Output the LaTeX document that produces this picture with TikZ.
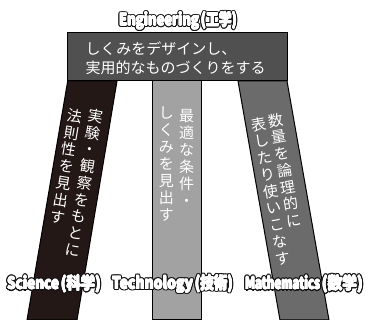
\documentclass[tikz,border=0pt]{standalone}
\usepackage{fontspec}
\usepackage{graphicx}
\setmainfont{Noto Sans CJK JP}
\newfontfamily\lblfont{Noto Sans CJK JP Black}
\usetikzlibrary{calc}
\definecolor{sciblk}{HTML}{231815}
\definecolor{boxgray}{HTML}{505050}
\definecolor{mathgray}{HTML}{6B6B6B}
\definecolor{techgray}{HTML}{A2A2A2}
\definecolor{lblwhite}{RGB}{255,255,255}
\definecolor{lblblack}{RGB}{20,20,20}
\tikzset{
  legshape/.style={draw=black, line width=1pt, line join=miter},
  vtext/.style={text=white, font=\fontsize{15}{17}\selectfont, align=center, inner sep=0pt},
  boxtext/.style={text=white, font=\fontsize{15}{18.5}\selectfont, align=left, inner sep=0pt},
  lbl/.style={font=\lblfont\fontsize{16.5}{19}\selectfont, inner sep=0pt},
}
% #1 latin width, #2 latin word, #3 cjk width, #4 cjk word
\newcommand\lab[4]{\resizebox{#1}{\height}{#2}\kern1.8pt\resizebox{#3}{\height}{(#4)}}
\newcommand\outlined[3]{%
  \foreach \a in {0,22.5,...,337.5} {\node[lbl, text=lblblack] (#2-o\a) at ($(#1)+(\a:1.6)$) {#3};}
  \foreach \a in {0,45,...,315} {\node[lbl, text=lblwhite] (#2-w\a) at ($(#1)+(\a:0.45)$) {#3};}
  \node[lbl, text=lblwhite] (#2) at (#1) {#3};
}
\begin{document}
\begin{tikzpicture}[x=1pt,y=-1pt]
\useasboundingbox (0,0) rectangle (368,320);
\fill[white] (0,0) rectangle (368,320);
% legs
\draw[legshape, fill=sciblk] (67.7,81) -- (117,81) -- (77,320) -- (27,320) -- cycle;
\draw[legshape, fill=techgray] (153,81) -- (202,81) -- (202,320) -- (153,320) -- cycle;
\draw[legshape, fill=mathgray] (238,81) -- (287,81) -- (329,320) -- (280,320) -- cycle;
% top box
\draw[legshape, fill=boxgray] (67.7,32.7) rectangle (287.7,81);
\node[boxtext, anchor=west] (eng) at (85.5,58.3) {しくみをデザインし、\\実用的なものづくりをする};
% vertical texts
\node[vtext, rotate=-9.6] (sci1) at (84.7,182.7) {実\\験\\・\\観\\察\\を\\も\\と\\に};
\node[vtext, rotate=-9.6] (sci2) at (66.5,166.2) {法\\則\\性\\を\\見\\出\\す};
\node[vtext] (tec1) at (186.5,157.5) {最\\適\\な\\条\\件\\・};
\node[vtext] (tec2) at (166.5,164.5) {し\\く\\み\\を\\見\\出\\す};
\node[vtext, rotate=10] (mat1) at (285,170) {数\\量\\を\\論\\理\\的\\に};
\node[vtext, rotate=10] (mat2) at (271,191) {表\\し\\た\\り\\使\\い\\こ\\な\\す};
% labels
\outlined{178,20.5}{lE}{\lab{80pt}{Engineering}{36pt}{工学}}
\outlined{54,284}{lS}{\lab{52pt}{Science}{40pt}{科学}}
\outlined{172.5,284}{lT}{\lab{81pt}{Technology}{38pt}{技術}}
\outlined{304,284}{lM}{\lab{75pt}{Mathematics}{41pt}{数学}}
\end{tikzpicture}
\end{document}
